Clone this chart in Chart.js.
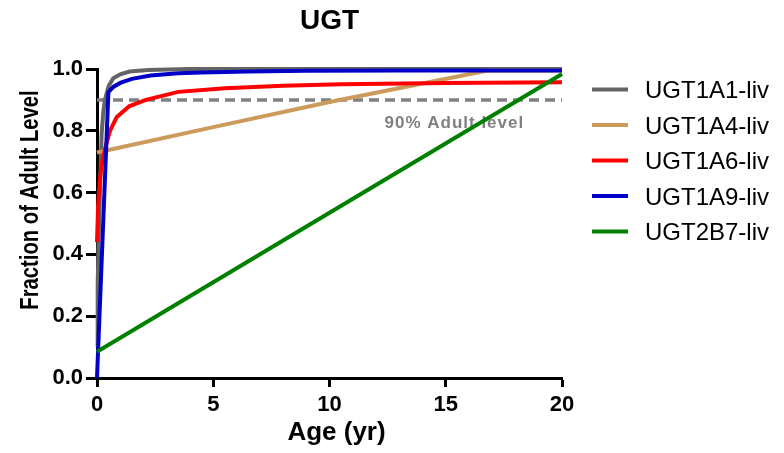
<!DOCTYPE html>
<html>
<head>
<meta charset="utf-8">
<title>UGT</title>
<script src="https://cdn.jsdelivr.net/npm/chart.js@4.4.1/dist/chart.umd.min.js"></script>
<style>
  html, body { margin: 0; padding: 0; background: #fff; }
  #wrap { width: 784px; height: 453px; }
</style>
</head>
<body>
<div id="wrap"><canvas id="ugtChart" width="784" height="453"></canvas></div>
<script>
// UGT ontogeny — fraction of adult liver expression vs age, with the 90% line.
const FONT = "'Liberation Sans', Arial, Helvetica, sans-serif";

const TITLE = "UGT";
const X_TITLE = "Age (yr)";
const Y_TITLE = "Fraction of Adult Level";
const X_TICKS = [0, 5, 10, 15, 20];
const Y_TICKS = [0, 0.2, 0.4, 0.6, 0.8, 1.0];
const Y_TICK_LABELS = ["0.0", "0.2", "0.4", "0.6", "0.8", "1.0"];

// Values (age in years, fraction of adult level).
const AGE_1A1  = [0, 0.03, 0.07, 0.13, 0.2, 0.27, 0.34, 0.5, 0.7, 1.0, 1.4, 2.2, 4, 20];
const FRAC_1A1 = [0.1, 0.3, 0.45, 0.61, 0.79, 0.86, 0.90, 0.945, 0.97, 0.983, 0.992, 0.997, 1.0, 1.0];

const AGE_1A4  = [0, 5, 10, 16.8, 20];
const FRAC_1A4 = [0.73, 0.812, 0.893, 0.995, 0.995];

const AGE_1A6  = [0, 0.05, 0.12, 0.2, 0.34, 0.56, 0.85, 1.4, 2.1, 3.5, 5.5, 8, 10.5, 15, 20];
const FRAC_1A6 = [0.44, 0.56, 0.64, 0.69, 0.74, 0.80, 0.845, 0.88, 0.90, 0.926, 0.938, 0.946, 0.951, 0.955, 0.957];

const AGE_1A9  = [0, 0.49, 0.7, 1.0, 1.5, 2.3, 3.5, 4.5, 6.5, 9, 13, 20];
const FRAC_1A9 = [0, 0.925, 0.942, 0.955, 0.968, 0.979, 0.986, 0.989, 0.992, 0.994, 0.995, 0.995];

const AGE_2B7  = [0, 10, 20];
const FRAC_2B7 = [0.085, 0.535, 0.984];

const REF_AGE  = [0, 20];
const REF_FRAC = [0.9, 0.9];
const REF_TEXT = "90% Adult level";
const REF_COLOR = "#808080";

// name, ages, fractions, colour; `order` puts later-drawn curves on top.
const CURVES = [
  { name: "UGT1A1-liv", age: AGE_1A1, frac: FRAC_1A1, color: "#646464", order: 5 },
  { name: "UGT1A4-liv", age: AGE_1A4, frac: FRAC_1A4, color: "#cc9a5a", order: 4 },
  { name: "UGT1A6-liv", age: AGE_1A6, frac: FRAC_1A6, color: "#ff0000", order: 3 },
  { name: "UGT1A9-liv", age: AGE_1A9, frac: FRAC_1A9, color: "#0000c8", order: 2 },
  { name: "UGT2B7-liv", age: AGE_2B7, frac: FRAC_2B7, color: "#008000", order: 1 },
];

const pts = (ages, fracs) => ages.map((a, i) => ({ x: a, y: fracs[i] }));

const datasets = CURVES.map(s => ({
  label: s.name, data: pts(s.age, s.frac),
  borderColor: s.color, backgroundColor: s.color,
  borderWidth: 4, pointRadius: 0, tension: 0, clip: 6, order: s.order,
}));
datasets.push({
  label: REF_TEXT, data: pts(REF_AGE, REF_FRAC), isRef: true,
  borderColor: REF_COLOR, borderWidth: 3.5, borderDash: [10, 6],
  pointRadius: 0, order: 6,
});

// Axis titles, the 90% note and the right-hand legend, placed like the original.
const chartText = {
  id: "chartText",
  beforeDatasetsDraw(c) {
    const { ctx, scales: { x, y } } = c;
    ctx.save();
    ctx.fillStyle = REF_COLOR;
    ctx.font = `bold 17px ${FONT}`;
    ctx.letterSpacing = "1px";
    ctx.textAlign = "center";
    ctx.textBaseline = "alphabetic";
    ctx.fillText(REF_TEXT, x.getPixelForValue(15.37), y.getPixelForValue(REF_FRAC[0]) + 28.4);
    ctx.restore();
  },
  afterDraw(c) {
    const { ctx, chartArea: a } = c;
    ctx.save();
    ctx.fillStyle = "#000";
    ctx.textBaseline = "alphabetic";
    ctx.textAlign = "center";
    ctx.font = `bold 26px ${FONT}`;
    ctx.fillText(X_TITLE, (a.left + a.right) / 2 + 7, a.bottom + 62);

    // the original's y title is set in a condensed face
    ctx.save();
    ctx.translate(38, (a.top + a.bottom) / 2 - 23.5);
    ctx.rotate(-Math.PI / 2);
    ctx.scale(0.81, 1);
    ctx.font = `bold 25px ${FONT}`;
    ctx.fillText(Y_TITLE, 0, 0);
    ctx.restore();

    ctx.textAlign = "left";
    ctx.font = `24px ${FONT}`;
    c.data.datasets.filter(d => !d.isRef).forEach((d, i) => {
      const cy = a.top + 20.5 + i * 35.5;
      ctx.fillStyle = d.borderColor;
      ctx.fillRect(a.right + 30, cy - 2, 36, 4);
      ctx.fillStyle = "#000";
      ctx.fillText(d.label, a.right + 83, cy + 8.6);
    });
    ctx.restore();
  },
};

const tickFont = { family: FONT, size: 22, weight: "bold" };

new Chart(document.getElementById("ugtChart"), {
  type: "line",
  data: { datasets },
  options: {
    responsive: false, devicePixelRatio: 1, animation: false,
    layout: { padding: { left: 0, right: 222, top: 0, bottom: 0 } },
    plugins: {
      legend: { display: false },
      tooltip: { enabled: false },
      title: {
        display: true, text: TITLE, fullSize: false, color: "#000",
        font: { family: FONT, size: 28, weight: "bold" },
        padding: { top: 4.5, bottom: 30.9 },
      },
    },
    scales: {
      x: {
        type: "linear", min: 0, max: 20,
        afterBuildTicks: s => { s.ticks = X_TICKS.map(v => ({ value: v })); },
        afterFit: s => { s.height = 75; },
        grid: { drawOnChartArea: false, drawTicks: true, tickLength: 9, tickWidth: 3, tickColor: "#000" },
        border: { display: true, color: "#000", width: 3 },
        ticks: { color: "#000", font: tickFont, padding: 4.5, maxRotation: 0, autoSkip: false },
      },
      y: {
        type: "linear", min: 0, max: 1,
        afterBuildTicks: s => { s.ticks = Y_TICKS.map(v => ({ value: v })); },
        afterFit: s => { s.width = 97; },
        grid: { drawOnChartArea: false, drawTicks: true, tickLength: 11, tickWidth: 3, tickColor: "#000" },
        border: { display: true, color: "#000", width: 3 },
        ticks: {
          color: "#000", font: tickFont, padding: 3, autoSkip: false,
          callback: (v, i) => Y_TICK_LABELS[i],
        },
      },
    },
  },
  plugins: [chartText],
});
</script>
</body>
</html>
